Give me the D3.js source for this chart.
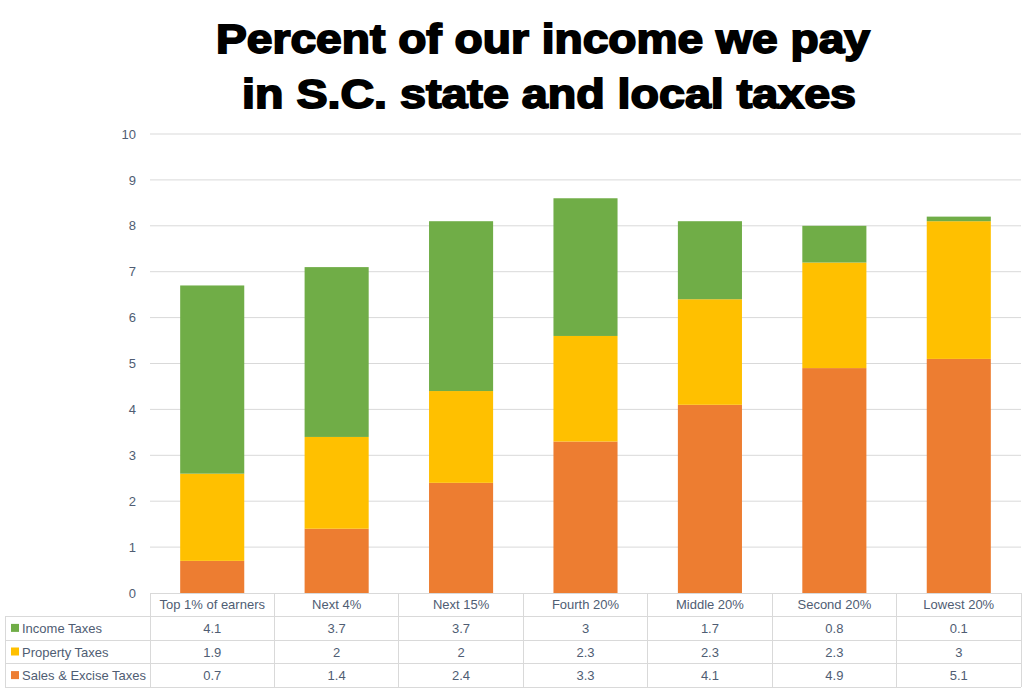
<!DOCTYPE html>
<html>
<head>
<meta charset="utf-8">
<script src="https://cdn.jsdelivr.net/npm/d3@7"></script>
<style>
  body { margin: 0; background: #fff; }
  svg text { font-family: "Liberation Sans", Arial, sans-serif; }
</style>
</head>
<body>
<svg id="chart" width="1033" height="695"></svg>
<script>
// data
var categories = ["Top 1% of earners", "Next 4%", "Next 15%", "Fourth 20%", "Middle 20%", "Second 20%", "Lowest 20%"];
var seriesNames = ["Sales & Excise Taxes", "Property Taxes", "Income Taxes"];
var salesTax = [0.7, 1.4, 2.4, 3.3, 4.1, 4.9, 5.1];
var propertyTax = [1.9, 2, 2, 2.3, 2.3, 2.3, 3];
var incomeTax = [4.1, 3.7, 3.7, 3, 1.7, 0.8, 0.1];
var yTicks = [0, 1, 2, 3, 4, 5, 6, 7, 8, 9, 10];
var titleLines = ["Percent of our income we pay", "in S.C. state and local taxes"];

var colors = {"Income Taxes": "#70ad47", "Property Taxes": "#ffc000", "Sales & Excise Taxes": "#ed7d31"};
var textColor = "#4f5d73";
var gridColor = "#d9d9d9";

var rows = categories.map(function(c, i) {
  return {cat: c, "Sales & Excise Taxes": salesTax[i], "Property Taxes": propertyTax[i], "Income Taxes": incomeTax[i]};
});

var svg = d3.select("#chart");
var plotLeft = 150, plotRight = 1021, plotTop = 134, plotBottom = 593;

var x = d3.scaleBand().domain(categories).range([plotLeft, plotRight]).paddingInner(0.485).paddingOuter(0.2425);
var xCell = d3.scaleBand().domain(categories).range([plotLeft, plotRight]);
var y = d3.scaleLinear().domain([0, 10]).range([plotBottom, plotTop]);

// title
svg.selectAll("text.title")
  .data(titleLines)
  .enter().append("text")
  .attr("class", "title")
  .attr("x", function(d, i) { return i == 0 ? 543 : 549; })
  .attr("y", function(d, i) { return 53 + i * 55; })
  .attr("text-anchor", "middle")
  .attr("textLength", function(d, i) { return i == 0 ? 654 : 614; })
  .attr("lengthAdjust", "spacingAndGlyphs")
  .style("font-size", "41px")
  .style("font-weight", "bold")
  .style("stroke", "#000")
  .style("stroke-width", 1.8)
  .style("fill", "#000")
  .text(function(d) { return d; });

// gridlines
svg.append("g")
  .selectAll("line")
  .data(yTicks.slice(1))
  .enter().append("line")
  .attr("x1", plotLeft).attr("x2", plotRight)
  .attr("y1", function(d) { return y(d); })
  .attr("y2", function(d) { return y(d); })
  .attr("stroke", gridColor)
  .attr("stroke-width", 1);

// y axis
var yAxis = d3.axisLeft(y).tickValues(yTicks).tickSize(0).tickPadding(14);
var gy = svg.append("g").attr("transform", "translate(" + plotLeft + ",0)").call(yAxis);
gy.select(".domain").remove();
gy.selectAll("text").style("font-size", "13px").style("fill", textColor).style("font-family", "'Liberation Sans', Arial, sans-serif");

// stacked bars
var stack = d3.stack().keys(seriesNames);
var layers = stack(rows);
svg.append("g")
  .selectAll("g")
  .data(layers)
  .enter().append("g")
  .attr("fill", function(d) { return colors[d.key]; })
  .selectAll("rect")
  .data(function(d) { return d; })
  .enter().append("rect")
  .attr("x", function(d) { return x(d.data.cat); })
  .attr("width", x.bandwidth())
  .attr("y", function(d) { return y(d[1]); })
  .attr("height", function(d) { return y(d[0]) - y(d[1]); });

// data table
var tableLeft = 5;
var rowH = 23.6;
var tableRows = ["Income Taxes", "Property Taxes", "Sales & Excise Taxes"];
var tableVals = {"Income Taxes": incomeTax, "Property Taxes": propertyTax, "Sales & Excise Taxes": salesTax};
var tbl = svg.append("g");
var lineStyle = function(sel) { return sel.attr("stroke", gridColor).attr("stroke-width", 1).attr("shape-rendering", "crispEdges"); };

tbl.append("line").attr("x1", plotLeft).attr("x2", plotRight).attr("y1", plotBottom).attr("y2", plotBottom).call(lineStyle);
for (var r = 1; r <= 4; r++) {
  tbl.append("line").attr("x1", tableLeft).attr("x2", plotRight)
    .attr("y1", plotBottom + r * rowH).attr("y2", plotBottom + r * rowH).call(lineStyle);
}
tbl.append("line").attr("x1", tableLeft).attr("x2", tableLeft)
  .attr("y1", plotBottom + rowH).attr("y2", plotBottom + 4 * rowH).call(lineStyle);
categories.forEach(function(c) {
  tbl.append("line").attr("x1", xCell(c)).attr("x2", xCell(c))
    .attr("y1", plotBottom).attr("y2", plotBottom + 4 * rowH).call(lineStyle);
});
tbl.append("line").attr("x1", plotRight).attr("x2", plotRight)
  .attr("y1", plotBottom).attr("y2", plotBottom + 4 * rowH).call(lineStyle);

// category labels
tbl.selectAll("text.cat")
  .data(categories)
  .enter().append("text")
  .attr("class", "cat")
  .attr("x", function(d) { return xCell(d) + xCell.bandwidth() / 2; })
  .attr("y", plotBottom + rowH / 2 + 4.5)
  .attr("text-anchor", "middle")
  .style("font-size", "13px")
  .style("fill", textColor)
  .text(function(d) { return d; });

tableRows.forEach(function(name, r) {
  var cy = plotBottom + (r + 1) * rowH + rowH / 2;
  tbl.append("rect")
    .attr("x", 11).attr("y", cy - 4.5)
    .attr("width", 8).attr("height", 8)
    .attr("fill", colors[name]);
  tbl.append("text")
    .attr("x", 22).attr("y", cy + 4.5)
    .style("font-size", "13px")
    .style("fill", textColor)
    .text(name);
  tbl.selectAll("text.v" + r)
    .data(tableVals[name])
    .enter().append("text")
    .attr("class", "v" + r)
    .attr("x", function(d, i) { return xCell(categories[i]) + xCell.bandwidth() / 2; })
    .attr("y", cy + 4.5)
    .attr("text-anchor", "middle")
    .style("font-size", "13px")
    .style("fill", textColor)
    .text(function(d) { return d; });
});
</script>
</body>
</html>
